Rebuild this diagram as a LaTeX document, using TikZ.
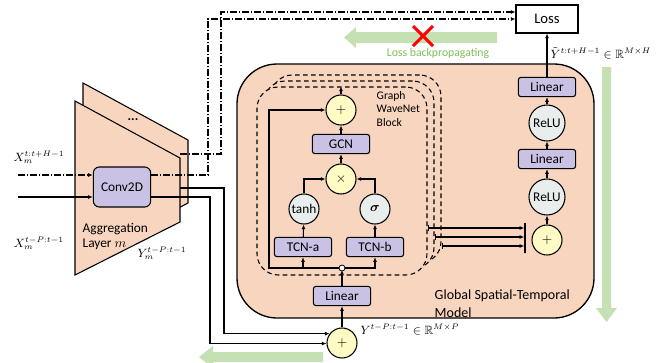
\documentclass[tikz,border=0pt]{standalone}
\usepackage{amsmath}
\usepackage{amssymb}
\usepackage{fontspec}
\setmainfont{Carlito}
\usepackage{tikz}
\usetikzlibrary{arrows.meta}

\definecolor{peach}{RGB}{248,213,191}
\definecolor{lavender}{RGB}{201,194,228}
\definecolor{paleyellow}{RGB}{255,251,196}
\definecolor{palegray}{RGB}{232,238,236}
\definecolor{bpgreen}{RGB}{197,224,178}
\definecolor{bptext}{RGB}{128,190,88}

\tikzset{
  flow/.style={line width=0.8pt},
  dashdot/.style={line width=0.8pt, dash pattern=on 5pt off 1.5pt on 1pt off 1.5pt},
  opbox/.style={draw, line width=0.8pt, fill=lavender, rounded corners=2pt,
    minimum width=43pt, minimum height=14.5pt, inner sep=1pt},
  convbox/.style={opbox, rounded corners=4.5pt, minimum height=30pt},
  opcirc/.style={circle, draw, line width=0.8pt, minimum size=22.5pt, inner sep=0pt},
  sumcirc/.style={opcirc, fill=paleyellow},
  actcirc/.style={opcirc, fill=palegray},
  splitdot/.style={circle, draw, line width=0.6pt, fill=white, minimum size=4.5pt, inner sep=0pt},
  blockframe/.style={draw, line width=0.8pt, dash pattern=on 3.5pt off 2.5pt, fill=peach,
    rounded corners=16pt, minimum width=127.5pt, minimum height=141pt},
  joinbar/.style={draw, line width=1pt, minimum height=22.5pt, minimum width=0pt, inner sep=0pt},
  lossbox/.style={draw, line width=0.8pt, fill=white, minimum width=46.5pt, minimum height=21pt},
  mathlabel/.style={inner sep=1pt, font=\fontsize{9}{11}\selectfont},
}

\begin{document}
\begin{tikzpicture}[x=0.75pt, y=-0.75pt, font=\fontsize{10}{12}\selectfont,
  >={Latex[length=3.5pt, width=3pt]}]
  \useasboundingbox (0,0) rectangle (662,362);

  \fill[bpgreen] (497,32) -- (356,32) -- (356,27) -- (344,37.5) -- (356,48) -- (356,43) -- (497,43) -- cycle;
  \fill[bpgreen] (602,67) -- (602,308) -- (596,308) -- (606.5,322) -- (617,308) -- (611,308) -- (611,67) -- cycle;
  \fill[bpgreen] (323,352) -- (213,352) -- (213,346) -- (199,357) -- (213,368) -- (213,362) -- (323,362) -- cycle;

  \filldraw[flow, fill=peach] (83,83) -- (188,140) -- (188,203) -- (83,258) -- cycle;
  \node (more) at (133,120) {\textbf{...}};
  \filldraw[flow, fill=peach] (75,101) -- (180,158) -- (180,222) -- (75,275) -- cycle;
  \node[convbox] (conv) at (122,187) {Conv2D};
  \node[anchor=west, align=left, font=\fontsize{10}{11.3}\selectfont] (agg) at (78,236) {Aggregation\\Layer $m$};
  \node[mathlabel] (xfut) at (39,157) {$X_m^{t:t+H-1}$};
  \node[mathlabel] (xpast) at (39,243) {$X_m^{t-P:t-1}$};
  \node[mathlabel] (ym) at (162,253) {$Y_m^{t-P:t-1}$};

  \draw[line width=1pt, fill=peach, rounded corners=30pt] (237,64) rectangle (594,318);
  \node[anchor=west, align=left, font=\fontsize{10.5}{13.5}\selectfont] (gstm) at (430,304) {Global Spatial-Temporal\\Model};

  \node[blockframe] (blkc) at (356,169) {};
  \node[blockframe] (blkb) at (349,175) {};
  \node[blockframe] (blka) at (342,181) {};

  \node[sumcirc] (sum) at (341,110) {$+$};
  \node[opbox] (gcn) at (341,144) {GCN};
  \node[sumcirc] (mul) at (341,179) {$\times$};
  \node[actcirc] (tanh) at (304,209) {tanh};
  \node[actcirc] (sig) at (375,209) {$\boldsymbol{\sigma}$};
  \node[opbox] (tcna) at (303,247) {TCN-a};
  \node[opbox] (tcnb) at (375,247) {TCN-b};
  \node[opbox] (lin0) at (342,296) {Linear};
  \node[sumcirc] (pin) at (342,343) {$+$};
  \node[anchor=west, align=left, font=\fontsize{8.7}{9.8}\selectfont] (gwn) at (372,109) {Graph\\WaveNet\\Block};

  \draw[->, flow] (pin) -- (lin0);
  \draw[->, flow] (lin0) -- (342,270);
  \draw[->, flow] (342,268) -| (tcna);
  \draw[->, flow] (342,268) -| (tcnb);
  \draw[->, flow] (342,268) -- (269,268) |- (sum);
  \node[splitdot] (split) at (342,268) {};
  \draw[->, flow] (tcna) -- (tanh);
  \draw[->, flow] (tcnb) -- (sig);
  \draw[->, flow] (tanh) |- (mul);
  \draw[->, flow] (sig) |- (mul);
  \draw[->, flow] (mul) -- (gcn);
  \draw[->, flow] (gcn) -- (sum);
  \draw[->, flow] (sum) -- (sum |- blka.north);

  \node[sumcirc] (sout) at (547,240) {$+$};
  \node[actcirc, minimum size=27pt] (relua) at (547,197) {ReLU};
  \node[opbox] (lina) at (547,159) {Linear};
  \node[actcirc, minimum size=27pt] (relub) at (547,123) {ReLU};
  \node[opbox] (linb) at (547,87) {Linear};
  \node[lossbox] (loss) at (547,19) {\fontsize{11}{13}\selectfont Loss};
  \node[joinbar] (join) at (525,238) {};

  \coordinate (lvla) at (0,228);
  \coordinate (lvlb) at (0,237);
  \coordinate (lvlc) at (0,246);
  \draw[{Bar[width=4pt]}->, flow] (blka.east |- lvla) -- (join.west |- lvla);
  \draw[{Bar[width=4pt]}->, flow] (blkb.east |- lvlb) -- (join.west |- lvlb);
  \draw[{Bar[width=4pt]}->, flow] (blkc.east |- lvlc) -- (join.west |- lvlc);

  \draw[->, flow] (sout) -- (relua);
  \draw[->, flow] (relua) -- (lina);
  \draw[->, flow] (lina) -- (relub);
  \draw[->, flow] (relub) -- (linb);
  \draw[->, line width=1pt] (linb) -- (loss);
  \node[mathlabel, anchor=west] (yhat) at (549,53) {$\tilde{Y}^{t:t+H-1}\in\mathbb{R}^{M\times H}$};
  \node[mathlabel, anchor=west] (ypast) at (359,330) {$Y^{t-P:t-1}\in\mathbb{R}^{M\times P}$};

  \coordinate (infut) at (18,175);
  \coordinate (inpast) at (18,197);
  \coordinate (backfut) at (180,154);
  \coordinate (backpast) at (180,188);
  \draw[->, dashdot] (infut) -- (infut -| conv.west);
  \draw[->, flow] (inpast) -- (inpast -| conv.west);
  \draw[->, dashdot] (infut -| conv.east) -- (208,175) |- (loss.west);
  \draw[->, dashdot] (backfut) -- (221,154) |- ([yshift=5.25pt]loss.west);
  \draw[->, flow] (inpast -| conv.east) -- (210,197) |- (pin.182);
  \draw[->, flow] (backpast) -- (224,188) |- (pin.143);

  \node[text=bptext, font=\fontsize{8.8}{10}\selectfont] (bplabel) at (438,53) {Loss backpropagating};
  \draw[red, line width=2.2pt] (413,26) -- (433,46) (413,46) -- (433,26);
\end{tikzpicture}
\end{document}
